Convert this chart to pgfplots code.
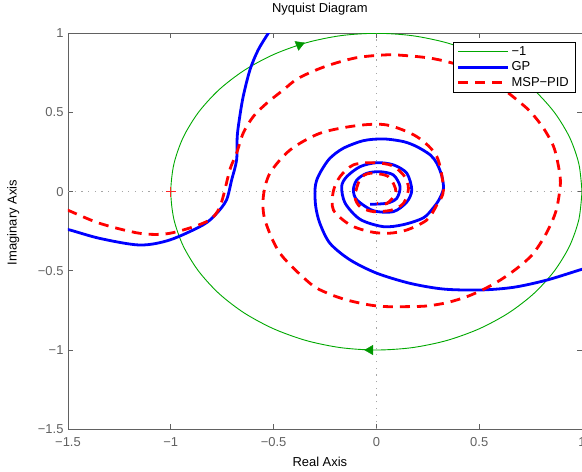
\documentclass[border=0pt]{standalone}
\usepackage{pgfplots}
\pgfplotsset{compat=1.18}
\usepackage{fontspec}
\setmainfont{Liberation Sans}
\definecolor{axgray}{gray}{0.38}
\definecolor{mgreen}{rgb}{0,0.66,0}
\definecolor{dotgray}{gray}{0.65}
\begin{document}
\begin{tikzpicture}
\begin{axis}[
  scale only axis, width=514bp, height=395.9bp,
  xmin=-1.5, xmax=1, ymin=-1.5, ymax=1,
  xtick={-1.5,-1,-0.5,0,0.5,1}, xticklabels={−1.5,−1,−0.5,0,0.5,1},
  ytick={-1.5,-1,-0.5,0,0.5,1}, yticklabels={−1.5,−1,−0.5,0,0.5,1},
  tick align=inside, major tick length=5bp,
  axis line style={axgray, line width=0.7bp},
  every tick/.style={axgray, line width=0.7bp},
  tick label style={font=\fontsize{13}{15}\selectfont, text=axgray},
  xticklabel style={yshift=-4.5bp},
  yticklabel style={xshift=-1bp},
  label style={font=\fontsize{13}{15}\selectfont},
  title={Nyquist Diagram},
  title style={font=\fontsize{13}{15}\selectfont, at={(axis description cs:0.49,1)}, anchor=base, yshift=14.7bp},
  xlabel={Real Axis},
  xlabel style={at={(axis description cs:0.49,0)}, anchor=base, yshift=-37.6bp},
  ylabel={Imaginary Axis},
  ylabel style={at={(axis description cs:-0.1,0.522)}, anchor=base},
  legend style={at={(axis description cs:0.9864,0.9786)}, anchor=north east, draw=black, fill=white,
    font=\fontsize{13}{15}\selectfont, cells={anchor=west}, inner xsep=4bp, inner ysep=2.5bp, row sep=1bp},
  legend image code/.code={\draw[#1] (0bp,0bp) -- (50bp,0bp);},
]
\addlegendimage{draw=mgreen, line width=1.2bp}
\addlegendentry{−1}
% dotted zero lines
\addplot[dotgray, line width=0.8bp, dash pattern=on 1.2bp off 5.5bp, forget plot] coordinates {(-1.5,0) (1,0)};
\addplot[dotgray, line width=0.8bp, dash pattern=on 1.2bp off 5.5bp, forget plot] coordinates {(0,-1.5) (0,1)};
% critical point
\addplot[only marks, red!85!white, mark=+, mark size=5bp, mark options={line width=0.9bp}, forget plot] coordinates {(-1,0)};

% -1 : unit circle
\addplot[color=mgreen, line width=0.9bp, smooth, forget plot] coordinates {
(1,0) (0.985,0.174) (0.940,0.342) (0.866,0.5) (0.766,0.643) (0.643,0.766) (0.5,0.866) (0.342,0.940) (0.174,0.985) (0,1)
(-0.174,0.985) (-0.342,0.940) (-0.5,0.866) (-0.643,0.766) (-0.766,0.643) (-0.866,0.5) (-0.940,0.342) (-0.985,0.174) (-1,0)
(-0.985,-0.174) (-0.940,-0.342) (-0.866,-0.5) (-0.766,-0.643) (-0.643,-0.766) (-0.5,-0.866) (-0.342,-0.940) (-0.174,-0.985) (0,-1)
(0.174,-0.985) (0.342,-0.940) (0.5,-0.866) (0.643,-0.766) (0.766,-0.643) (0.866,-0.5) (0.940,-0.342) (0.985,-0.174) (1,0)
};
\addplot[only marks, mgreen!90!black, mark=triangle*, mark size=5.5bp, mark options={rotate=-68}, forget plot] coordinates {(-0.375,0.927)};
\addplot[only marks, mgreen!90!black, mark=triangle*, mark size=5.5bp, mark options={rotate=90}, forget plot] coordinates {(-0.03,-1.0)};

% GP
\addplot[blue, line width=2.8bp, line join=round, smooth] coordinates {
(-1.58,-0.225) (-1.503,-0.238) (-1.346,-0.295) (-1.151,-0.337) (-1.005,-0.305) (-0.843,-0.21) (-0.777,-0.137)
(-0.729,-0.052) (-0.704,0.074) (-0.68,0.2) (-0.677,0.347) (-0.667,0.453) (-0.648,0.600)
(-0.615,0.769) (-0.575,0.895) (-0.526,1.0) (-0.49,1.07)
};
\addlegendentry{GP}
\addplot[blue, line width=2.8bp, line join=round, smooth, forget plot] coordinates {
(1.06,-0.47) (1.0,-0.490) (0.830,-0.558) (0.667,-0.604) (0.505,-0.621) (0.326,-0.615) (0.164,-0.579) (0.002,-0.515)
(-0.128,-0.431) (-0.226,-0.326) (-0.275,-0.2) (-0.295,-0.095) (-0.299,0.011) (-0.290,0.074) (-0.266,0.137)
(-0.226,0.211) (-0.161,0.274) (-0.063,0.322) (0.034,0.333) (0.132,0.316) (0.197,0.284) (0.262,0.232) (0.294,0.179)
(0.318,0.1) (0.326,0.02) (0.305,-0.05) (0.278,-0.1) (0.229,-0.165) (0.132,-0.208) (0.034,-0.221) (-0.079,-0.175)
(-0.152,-0.073) (-0.169,0.032) (-0.144,0.095) (-0.079,0.158) (0.002,0.183) (0.083,0.169) (0.148,0.116) (0.172,0.011)
(0.148,-0.065) (0.083,-0.126) (-0.015,-0.12) (-0.095,-0.052) (-0.112,0.011) (-0.095,0.074) (-0.047,0.116) (0.018,0.126)
(0.083,0.105) (0.115,0.032) (0.099,-0.042) (0.051,-0.073) (-0.031,-0.080)
};

% MSP-PID
\addplot[red, line width=2.8bp, dash pattern=on 10bp off 7bp, smooth] coordinates {
(-1.58,-0.08) (-1.503,-0.116) (-1.346,-0.200) (-1.151,-0.263) (-1.005,-0.263) (-0.826,-0.189) (-0.761,-0.095)
(-0.713,0.137) (-0.680,0.243) (-0.648,0.369) (-0.599,0.474) (-0.534,0.558) (-0.453,0.642)
(-0.380,0.716) (-0.25,0.79) (-0.1,0.845) (0.051,0.864) (0.164,0.857) (0.262,0.843) (0.343,0.821)
(0.45,0.78) (0.55,0.71) (0.62,0.645) (0.684,0.579) (0.749,0.505) (0.813,0.400) (0.862,0.284) (0.886,0.158)
(0.895,0.053) (0.879,-0.095) (0.854,-0.190) (0.813,-0.294) (0.757,-0.400) (0.684,-0.484) (0.603,-0.558)
(0.521,-0.617) (0.440,-0.663) (0.343,-0.701) (0.245,-0.722) (0.148,-0.726) (0.051,-0.726) (-0.031,-0.716)
(-0.144,-0.684) (-0.24,-0.64) (-0.323,-0.579) (-0.469,-0.389) (-0.542,-0.179) (-0.550,-0.032) (-0.518,0.116)
(-0.420,0.263) (-0.274,0.369) (-0.095,0.417) (0.051,0.421) (0.197,0.347) (0.294,0.221) (0.326,0.011)
(0.294,-0.084) (0.245,-0.179) (0.148,-0.242) (0.058,-0.263) (-0.031,-0.253) (-0.128,-0.21) (-0.209,-0.116)
(-0.21,0.0) (-0.177,0.095) (-0.112,0.169) (-0.015,0.183) (0.075,0.165) (0.135,0.1) (0.156,0.02)
(0.132,-0.073) (0.075,-0.116) (-0.015,-0.126) (-0.079,-0.095) (-0.104,-0.032) (-0.079,0.08) (-0.031,0.116)
(0.058,0.095) (0.095,0.0) (0.051,-0.075) (0.002,-0.073)
};
\addlegendentry{MSP−PID}
\end{axis}
\pgfresetboundingbox
\path[use as bounding box] ([xshift=-68bp,yshift=-42.8bp]current axis.south west) rectangle ([yshift=33.3bp]current axis.north east);
\end{tikzpicture}
\end{document}
